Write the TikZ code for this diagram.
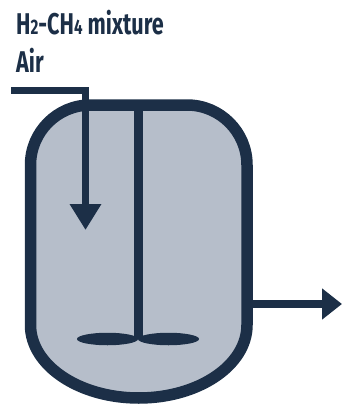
\documentclass[tikz,border=0pt]{standalone}
\usepackage{fontspec}
\setmainfont[FakeStretch=0.72]{Fira Sans}
\usetikzlibrary{arrows.meta,positioning,shapes.geometric}
\definecolor{vesselNavy}{RGB}{28, 47, 71}
\definecolor{vesselGrey}{RGB}{182, 190, 202}

\begin{document}
\begin{tikzpicture}[
  x=1pt, y=-1pt,
  vessel/.style={draw=vesselNavy, fill=vesselGrey, line width=11.5pt},
  pipe/.style={draw=vesselNavy, line width=7.5pt},
  arrow/.style={pipe, -{Triangle[length=26pt, width=30pt]}},
  outarrow/.style={pipe, line width=8pt, -{Triangle[length=20pt, width=30pt]}},
  gaslabel/.style={anchor=base west, inner sep=0pt, text=vesselNavy, font=\fontsize{30}{30}\selectfont\bfseries},
  paddle/.style={ellipse, fill=vesselNavy, inner sep=0pt, minimum width=61pt, minimum height=12.5pt}
]
\useasboundingbox (0,0) rectangle (342,404);
\draw[vessel] (30.5,165) arc[start angle=180, end angle=270, radius=60]
  -- (187,105) arc[start angle=270, end angle=360, radius=60]
  -- (247,325) arc[x radius=108.25, y radius=73, start angle=0, end angle=180] -- cycle;
\node[gaslabel] (gas) at (16,35) {H{\fontsize{21}{21}\selectfont 2}-CH{\fontsize{21}{21}\selectfont 4} mixture};
\node[gaslabel] (air) at (16,73) {Air};
\coordinate (feedin) at (11,90.5);
\coordinate (feedbend) at (85.5,90.5);
\coordinate (feedout) at (85.5,230);
\coordinate (shafttop) at (138.3,104);
\coordinate (shaftend) at (138.3,339);
\coordinate (outstart) at (250,304);
\coordinate (outend) at (342,304);
\node[paddle] (paddleleft) at (107.5,339) {};
\node[paddle] (paddleright) at (168.5,339) {};
\draw[pipe, line width=8.5pt] (shafttop) -- (shaftend);
\draw[arrow] (feedin) -- (feedbend) -- (feedout);
\draw[outarrow] (outstart) -- (outend);
\end{tikzpicture}
\end{document}
